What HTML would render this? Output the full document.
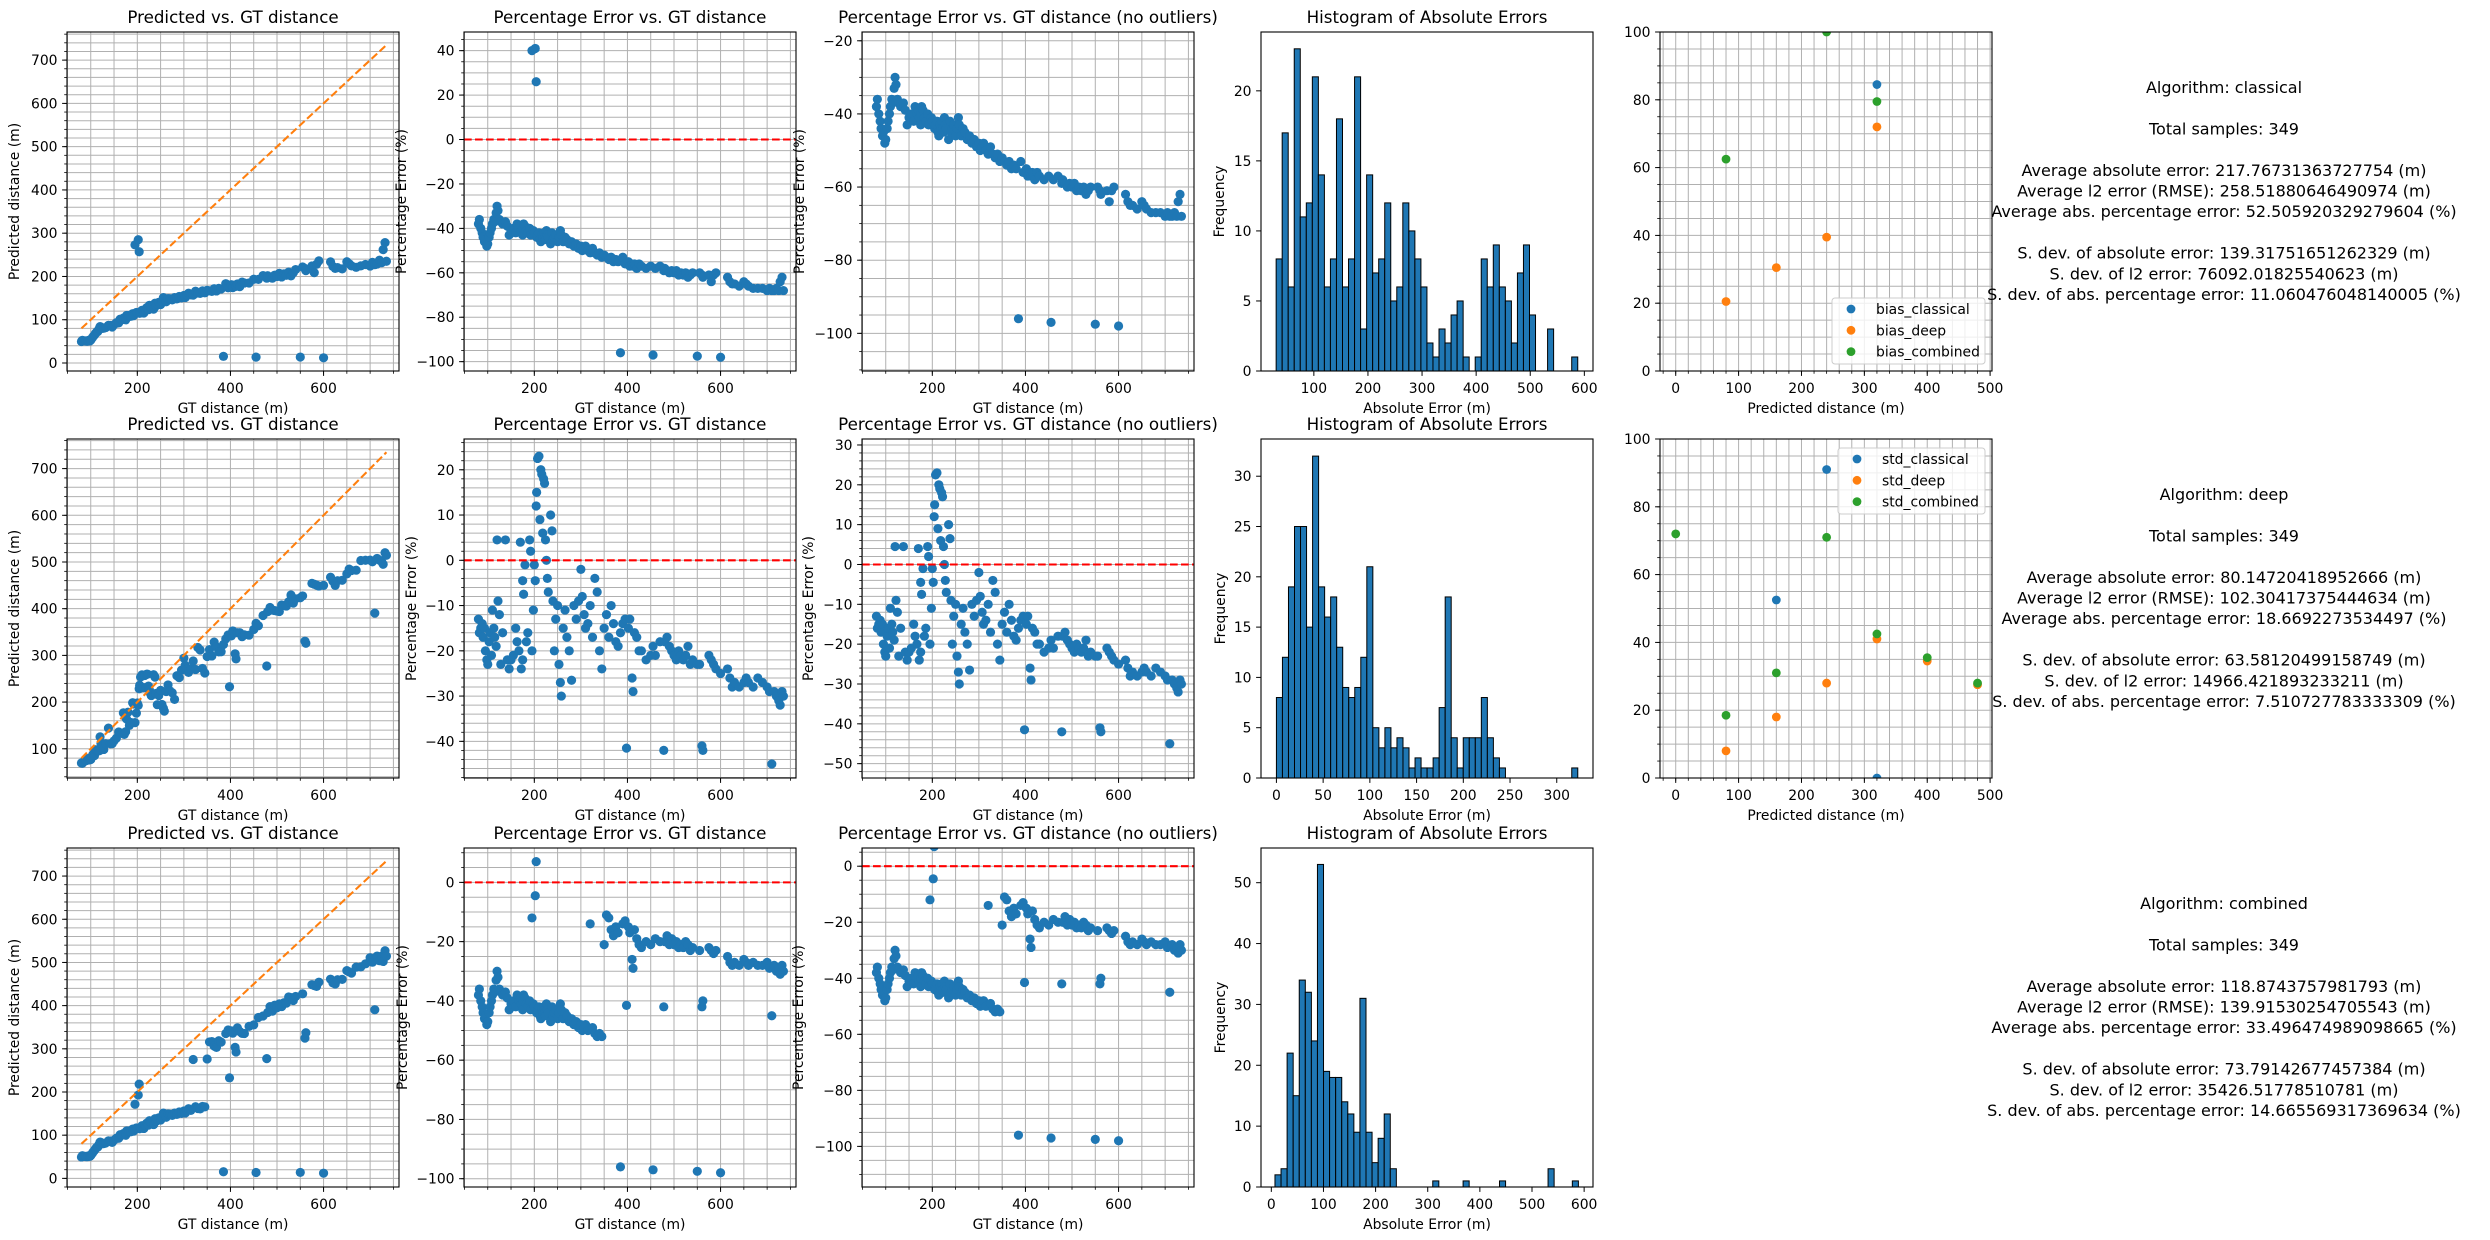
<!DOCTYPE html>
<html><head><meta charset="utf-8"><title>Distance estimation error analysis</title>
<style>
html,body{margin:0;padding:0;background:#fff;}
svg{display:block;font-family:"DejaVu Sans","Liberation Sans",sans-serif;}
text{fill:#000;}
</style></head>
<body>
<svg id="fig" xmlns="http://www.w3.org/2000/svg" width="2490" height="1240" viewBox="0 0 2490 1240">
<rect x="0" y="0" width="2490" height="1240" fill="#fff"/>
<defs id="defs"></defs>
</svg>
<script>
// ---- data: ground truth distances and percentage errors per algorithm ----
const gt = [80,82,85,88,90,93,95,98,100,103,105,108,110,113,115,118,120,122,125,128,132,138,142,146,150,155,160,163,167,170,172,175,175,177,180,183,186,190,192,195,198,200,202,204,205,207,210,212,214,216,218,220,222,224,226,228,230,235,238,240,243,246,250,253,256,258,262,266,270,275,280,285,290,295,300,303,307,310,315,320,325,330,335,340,345,350,355,360,365,370,375,380,385,390,395,398,402,405,410,412,415,420,425,430,440,450,455,460,470,478,480,485,490,495,500,505,510,515,520,525,530,535,540,550,555,560,562,575,580,585,590,600,615,620,625,630,640,650,655,660,670,680,690,700,705,710,715,720,725,728,732,735];
const pctClassical = [-38,-36,-40,-42,-44,-46,-45,-48,-47,-44,-42,-40,-38,-36,-37,-33,-30,-32,-36,-37,-38,-37,-39,-43,-41,-40,-42,-38,-40,-39,-41,-43,-40,-38,-39,-41,-42,-40,-43,40,-41,-42,41,26,-44,-43,-42,-45,-46,-43,-44,-42,-44,-45,-41,-43,-44,-47,-42,-45,-44,-43,-46,-44,-41,-43,-46,-44,-45,-47,-46,-48,-47,-49,-48,-50,-49,-48,-50,-51,-49,-51,-52,-51,-53,-52,-53,-54,-53,-55,-54,-55,-96,-53,-56,-56,-55,-57,-56,-57,-56,-58,-56,-57,-58,-57,-97,-58,-57,-59,-58,-59,-60,-59,-60,-59,-61,-60,-61,-60,-62,-61,-60,-97.5,-60,-61,-62,-61,-64,-61,-60,-98,-62,-64,-65,-65,-66,-64,-65,-66,-67,-67,-67,-68,-67,-68,-68,-67,-68,-64,-62,-68];
const pctDeep = [-13,-16,-15,-14,-17,-15,-20,-22,-23,-18,-16,-21,-11,-15,-17,-19,4.5,-9,-12,-23,-16,4.5,-22,-24,-22,-21,-15,-18,-20,4,-24,-22,-4.5,-7.5,-1,-18,-16,4.5,2,-20,-11,-1,-4.5,12,15,22.5,23,9,20,19,6,18,17,4.5,0,-4,-7,10,6.5,-9,-20,-13,-10,-23,-27,-30,-15,-11,-17,-20,-26.5,-10,-13,-9,-2,-8,-12,-15,-14,-10,-17,-4,-7,-20,-24,-15,-12,-17,-10,-14,-18,-19,-16,-14,-13,-41.5,-15,-13,-26,-29,-16,-17,-20,-20,-22,-21,-19,-21,-18,-42,-18,-17,-19,-20,-21,-22,-20,-21,-22,-21,-19,-23,-22,-23,-23,-41,-42,-21,-22,-23,-24,-25,-24,-26,-28,-27,-28,-27,-26,-27,-28,-26,-27,-28,-29,-45,-29,-30,-31,-32,-29,-30];
const pctCombined = [-38,-36,-40,-42,-44,-46,-45,-48,-47,-44,-42,-40,-38,-36,-37,-33,-30,-32,-36,-37,-38,-37,-39,-43,-41,-40,-42,-38,-40,-39,-41,-43,-40,-38,-39,-41,-42,-40,-43,-12,-41,-42,-4.5,7,-44,-43,-42,-45,-46,-43,-44,-42,-44,-45,-41,-43,-44,-47,-42,-45,-44,-43,-46,-44,-41,-43,-46,-44,-45,-47,-46,-48,-47,-49,-48,-50,-49,-48,-50,-14,-49,-51,-52,-51,-52,-21,-11,-12,-16,-18,-15,-17,-96,-14,-13,-41.5,-15,-17,-26,-29,-16,-19,-21,-22,-20,-21,-97,-19,-20,-42,-20,-18,-21,-19,-21,-20,-22,-21,-22,-20,-21,-23,-22,-97.5,-23,-42,-40,-22,-23,-24,-23,-98,-25,-27,-28,-27,-28,-26,-27,-28,-27,-28,-28,-27,-29,-45,-28,-30,-29,-31,-28,-30];

// ---- histogram bin counts (50 bins each) ----
const histClassical = [8,17,6,23,11,12,21,14,6,8,18,6,8,21,3,14,7,8,12,5,6,12,10,8,6,2,1,3,2,4,5,1,0,1,8,6,9,6,5,2,7,9,4,0,0,3,0,0,0,1];
const histDeep = [8,12,19,25,25,15,32,19,16,18,13,9,8,9,12,21,5,3,5,3,4,3,1,2,1,1,2,7,18,4,1,4,4,4,8,4,2,1,0,0,0,0,0,0,0,0,0,0,0,1];
const histCombined = [2,3,22,15,34,32,24,53,19,18,18,14,12,9,31,9,4,8,12,3,0,0,0,0,0,0,1,0,0,0,0,1,0,0,0,0,0,1,0,0,0,0,0,0,0,3,0,0,0,1];
const histBinStart = [30.3, 0, 7];
const histBinWidth = [11.15, 6.45, 11.64];

// ---- bias / std per distance bin ----
const biasClassicalX = [320], biasClassicalY = [84.5];
const biasDeepX = [80,160,240,320], biasDeepY = [20.5,30.5,39.5,72];
const biasCombinedX = [80,240,320], biasCombinedY = [62.5,100,79.5];
const stdClassicalX = [160,240,320], stdClassicalY = [52.5,91,0];
const stdDeepX = [80,160,240,320,400,480], stdDeepY = [8,18,28,41,34.5,27.5];
const stdCombinedX = [0,80,160,240,320,400,480], stdCombinedY = [72,18.5,31,71,42.5,35.5,28];

const NS='http://www.w3.org/2000/svg';
const svg=document.getElementById('fig');
const defs=document.getElementById('defs');
function mk(tag,attrs,parent){const e=document.createElementNS(NS,tag);for(const k in attrs)e.setAttribute(k,attrs[k]);(parent||svg).appendChild(e);return e;}
function fmt(v){const r=Math.round(v*1000)/1000;return r<0?'\u2212'+Math.abs(r):String(r);}
function ticks(a,b,s){const out=[];let v=Math.ceil((a-1e-9)/s)*s;for(;v<=b+1e-9;v+=s)out.push(Math.round(v*1000)/1000);return out;}
let clipN=0;
const BLUE='#1f77b4',ORANGE='#ff7f0e',GREEN='#2ca02c';

function makeAxes(name,x0,y0,w,h,xr,yr,xMaj,xMin,yMaj,yMin,grid){
  const g=mk('g',{});
  
  
  const sx=v=>x0+(v-xr[0])/(xr[1]-xr[0])*w;
  const sy=v=>y0+h-(v-yr[0])/(yr[1]-yr[0])*h;
  const id='c'+(clipN++);
  const cp=mk('clipPath',{id:id},defs);
  mk('rect',{x:x0,y:y0,width:w,height:h},cp);
  const gridG=mk('g',{stroke:'#b0b0b0','stroke-width':1},g);
  
  
  if(grid){
    ticks(xr[0],xr[1],xMin).forEach(v=>{mk('line',{x1:sx(v),x2:sx(v),y1:y0,y2:y0+h},gridG);});
    ticks(yr[0],yr[1],yMin).forEach(v=>{mk('line',{x1:x0,x2:x0+w,y1:sy(v),y2:sy(v)},gridG);});
  }
  const dataG=mk('g',{'clip-path':'url(#'+id+')'},g);
  
  
  const frame=mk('g',{},g);
  
  
  mk('rect',{x:x0,y:y0,width:w,height:h,fill:'none',stroke:'#000','stroke-width':1.1},frame);
  const xt=mk('g',{'font-size':'13.9px','text-anchor':'middle'},frame);
  
  
  if(xMin) ticks(xr[0],xr[1],xMin).forEach(v=>{mk('line',{x1:sx(v),x2:sx(v),y1:y0+h,y2:y0+h+2.8,stroke:'#000','stroke-width':0.8},xt);});
  ticks(xr[0],xr[1],xMaj).forEach(v=>{
    mk('line',{x1:sx(v),x2:sx(v),y1:y0+h,y2:y0+h+4.9,stroke:'#000','stroke-width':1},xt);
    const t=mk('text',{x:sx(v),y:y0+h+22},xt);t.textContent=fmt(v);
  });
  const yt=mk('g',{'font-size':'13.9px','text-anchor':'end'},frame);
  
  
  if(yMin) ticks(yr[0],yr[1],yMin).forEach(v=>{mk('line',{x1:x0-2.8,x2:x0,y1:sy(v),y2:sy(v),stroke:'#000','stroke-width':0.8},yt);});
  ticks(yr[0],yr[1],yMaj).forEach(v=>{
    mk('line',{x1:x0-4.9,x2:x0,y1:sy(v),y2:sy(v),stroke:'#000','stroke-width':1},yt);
    const t=mk('text',{x:x0-9.5,y:sy(v)+5},yt);t.textContent=fmt(v);
  });
  return {g,dataG,frame,sx,sy,x0,y0,w,h};
}
function labels(ax,title,xl,yl,yoff){
  if(title){const t=mk('text',{x:ax.x0+ax.w/2,y:ax.y0-9,'font-size':'16.7px','text-anchor':'middle'},ax.frame);t.textContent=title;
    
    }
  if(xl){const t=mk('text',{x:ax.x0+ax.w/2,y:ax.y0+ax.h+42,'font-size':'13.9px','text-anchor':'middle'},ax.frame);t.textContent=xl;
    
    }
  if(yl){const cx=ax.x0-yoff,cy=ax.y0+ax.h/2;const t=mk('text',{x:cx,y:cy,'font-size':'13.9px','text-anchor':'middle','dominant-baseline':'central',transform:'rotate(-90 '+cx+' '+cy+')'},ax.frame);t.textContent=yl;
    
    }
}
function dot(ax,x,y,color,name,rad){
  const c=mk('circle',{cx:ax.sx(x),cy:ax.sy(y),r:rad||4.2,fill:color},ax.dataG);
  
  
}

const COLS=[67,464,862,1261,1660], ROWS=[32,439,848], W=332, H=339;
const algos=['classical','deep','combined'];
const pctSets=[pctClassical,pctDeep,pctCombined];
const hists=[histClassical,histDeep,histCombined];
const predRanges=[[-18.5,765],[37.4,763.4],[-20,765]];
const pctRanges=[[-104.2,48.4],[-48.1,26.8],[-102.8,11.6]];
const pctMaj=[20,10,20],pctMinS=[5,2,5];
const noOutRanges=[[-110.3,-17.6],[-53.6,31.5],[-114.5,6.5]];
const noOutMaj=[20,10,20],noOutMin=[5,2,5];
const histXR=[[2.3,616],[-16.5,338.8],[-19.8,617]];
const histYR=[[0,24.2],[0,33.7],[0,55.7]];
const histXMaj=[100,50,100],histYMaj=[5,5,10];
const ylOff=[[52,62,62,41],[52,52,53,40],[52,61,63,40]];
const XR=[49,762];
const titles=['Predicted vs. GT distance','Percentage Error vs. GT distance','Percentage Error vs. GT distance (no outliers)','Histogram of Absolute Errors'];
const R=4.6;

for(let r=0;r<3;r++){
  const pct=pctSets[r];
  const pred=gt.map((g,i)=>g*(1+pct[i]/100));
  const a1=makeAxes('predicted-vs-gt-'+algos[r],COLS[0],ROWS[r],W,H,XR,predRanges[r],200,50,100,20,true);
  gt.forEach((g,i)=>dot(a1,g,pred[i],BLUE,'prediction-point',R));
  const dl=mk('line',{x1:a1.sx(gt[0]),y1:a1.sy(gt[0]),x2:a1.sx(gt[gt.length-1]),y2:a1.sy(gt[gt.length-1]),stroke:ORANGE,'stroke-width':2.08,'stroke-dasharray':'7.7 3.3'},a1.dataG);
  
  
  labels(a1,titles[0],'GT distance (m)','Predicted distance (m)',ylOff[r][0]);
  [[1,pctRanges[r],pctMaj[r],pctMinS[r],false],[2,noOutRanges[r],noOutMaj[r],noOutMin[r],true]].forEach(([c,yr,maj,mn,filt])=>{
    const a=makeAxes((filt?'pct-error-no-outliers-':'pct-error-')+algos[r],COLS[c],ROWS[r],W,H,XR,yr,200,50,maj,mn,true);
    gt.forEach((g,i)=>{if(filt&&pct[i]>25)return;dot(a,g,pct[i],BLUE,'error-point',R);});
    const z=mk('line',{x1:a.x0,x2:a.x0+a.w,y1:a.sy(0),y2:a.sy(0),stroke:'#ff0000','stroke-width':2.08,'stroke-dasharray':'7.7 3.3'},a.dataG);
    
    
    labels(a,titles[c],'GT distance (m)','Percentage Error (%)',ylOff[r][c]);
  });
  const ah=makeAxes('abs-error-histogram-'+algos[r],COLS[3],ROWS[r],W,H,histXR[r],histYR[r],histXMaj[r],0,histYMaj[r],0,false);
  hists[r].forEach((n,i)=>{
    if(n<=0)return;
    const x1=ah.sx(histBinStart[r]+i*histBinWidth[r]),x2=ah.sx(histBinStart[r]+(i+1)*histBinWidth[r]);
    const b=mk('rect',{x:x1,y:ah.sy(n),width:x2-x1,height:ah.sy(0)-ah.sy(n),fill:BLUE,stroke:'#000','stroke-width':1},ah.dataG);
    
    
  });
  labels(ah,titles[3],'Absolute Error (m)','Frequency',ylOff[r][3]);
}

function binPlot(r,name,series,prefix,legendBox){
  const a=makeAxes(name,COLS[4],ROWS[r],W,H,[-25,503],[0,100],100,20,20,5,true);
  series.forEach(s=>s[0].forEach((x,i)=>dot(a,x,s[1][i],s[2],prefix+'-point',4.4)));
  labels(a,null,'Predicted distance (m)',null,0);
  const lg=mk('g',{},svg);
  
  
  mk('rect',{x:legendBox[0],y:legendBox[1],width:legendBox[2],height:legendBox[3],rx:3,fill:'#fff','fill-opacity':0.8,stroke:'#cccccc','stroke-width':1},lg);
  series.forEach((s,i)=>{
    const e=mk('g',{},lg);
    
    
    const cy=legendBox[1]+11+i*21.3;
    mk('circle',{cx:legendBox[0]+19,cy:cy,r:4.4,fill:s[2]},e);
    const t=mk('text',{x:legendBox[0]+44,y:cy+5,'font-size':'13.9px'},e);t.textContent=s[3];
  });
}
binPlot(0,'bias-by-distance',[[biasClassicalX,biasClassicalY,BLUE,'bias_classical'],[biasDeepX,biasDeepY,ORANGE,'bias_deep'],[biasCombinedX,biasCombinedY,GREEN,'bias_combined']],'bias',[1832,298,153,66]);
binPlot(1,'std-by-distance',[[stdClassicalX,stdClassicalY,BLUE,'std_classical'],[stdDeepX,stdDeepY,ORANGE,'std_deep'],[stdCombinedX,stdCombinedY,GREEN,'std_combined']],'std',[1838,448,147,66]);

const summaries=[
 ['Algorithm: classical','','Total samples: 349','','Average absolute error: 217.76731363727754 (m)','Average l2 error (RMSE): 258.51880646490974 (m)','Average abs. percentage error: 52.505920329279604 (%)','','S. dev. of absolute error: 139.31751651262329 (m)','S. dev. of l2 error: 76092.01825540623 (m)','S. dev. of abs. percentage error: 11.060476048140005 (%)'],
 ['Algorithm: deep','','Total samples: 349','','Average absolute error: 80.14720418952666 (m)','Average l2 error (RMSE): 102.30417375444634 (m)','Average abs. percentage error: 18.6692273534497 (%)','','S. dev. of absolute error: 63.58120499158749 (m)','S. dev. of l2 error: 14966.421893233211 (m)','S. dev. of abs. percentage error: 7.510727783333309 (%)'],
 ['Algorithm: combined','','Total samples: 349','','Average absolute error: 118.8743757981793 (m)','Average l2 error (RMSE): 139.91530254705543 (m)','Average abs. percentage error: 33.496474989098665 (%)','','S. dev. of absolute error: 73.79142677457384 (m)','S. dev. of l2 error: 35426.51778510781 (m)','S. dev. of abs. percentage error: 14.665569317369634 (%)']
];
const textTop=[87,494,903];
summaries.forEach((lines,r)=>{
  const g=mk('g',{'font-size':'16px','text-anchor':'middle'});
  
  
  lines.forEach((l,i)=>{
    if(!l)return;
    const t=mk('text',{x:2224,y:textTop[r]+i*20.7+6},g);
    t.textContent=l;
  });
});
</script>
</body></html>
